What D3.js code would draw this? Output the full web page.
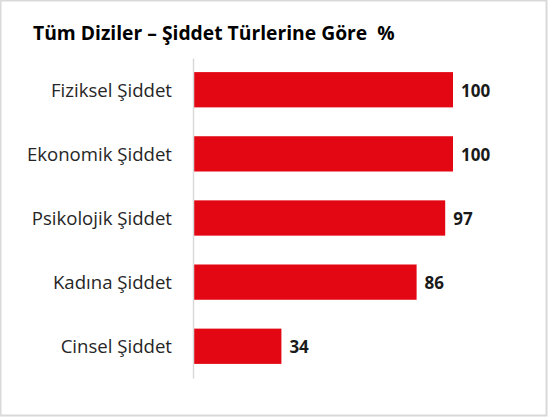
<!DOCTYPE html>
<html>
<head>
<meta charset="utf-8">
<script src="https://cdn.jsdelivr.net/npm/d3@7"></script>
<style>
  body { margin: 0; background: #fff; }
  svg text { font-family: "Open Sans", Lato, sans-serif; }
</style>
</head>
<body>
<div id="chart"></div>
<script>
// data
var categories = ['Fiziksel Şiddet', 'Ekonomik Şiddet', 'Psikolojik Şiddet', 'Kadına Şiddet', 'Cinsel Şiddet']
var values = [100, 100, 97, 86, 34]
var title = 'Tüm Diziler – Şiddet Türlerine Göre  %'

var width = 548, height = 417
var margin = {top: 58, left: 193, right: 95, bottom: 39}

var svg = d3.select('#chart').append('svg')
    .attr('width', width)
    .attr('height', height)

// frame
svg.append('rect')
    .attr('x', 0.5).attr('y', 0.5)
    .attr('width', width - 2).attr('height', height - 2)
    .attr('fill', '#fff')
    .attr('stroke', '#d9d9d9')
    .attr('stroke-width', 2)

svg.append('text')
    .attr('x', 33)
    .attr('y', 40)
    .attr('font-size', 19.3)
    .attr('font-weight', 'bold')
    .attr('fill', '#000')
    .attr('xml:space', 'preserve')
    .text(title)

var x = d3.scaleLinear()
    .domain([0, 100])
    .range([margin.left, margin.left + 260])

var y = d3.scaleBand()
    .domain(categories)
    .range([margin.top, height - margin.bottom])
    .paddingInner(0.45)
    .paddingOuter(0.22)

var g = svg.append('g')

g.selectAll('rect.bar')
    .data(values)
    .enter()
    .append('rect')
    .attr('class', 'bar')
    .attr('x', x(0))
    .attr('y', function(d, i){ return y(categories[i]) })
    .attr('width', function(d){ return x(d) - x(0) })
    .attr('height', y.bandwidth())
    .attr('fill', '#e30613')

// category axis
var yAxis = d3.axisLeft(y).tickSize(0).tickPadding(21)
var ax = svg.append('g')
    .attr('transform', 'translate(' + x(0) + ',0)')
    .call(yAxis)
ax.select('.domain')
    .attr('stroke', '#d9d9d9')
    .attr('stroke-width', 1.5)
ax.selectAll('text')
    .attr('font-size', 18.6)
    .attr('dy', '0.38em')
    .attr('fill', '#262626')
    .style('font-family', '"Open Sans", sans-serif')

// value labels
g.selectAll('text.val')
    .data(values)
    .enter()
    .append('text')
    .attr('class', 'val')
    .attr('x', function(d){ return x(d) + 8 })
    .attr('y', function(d, i){ return y(categories[i]) + y.bandwidth() / 2 })
    .attr('dy', '0.42em')
    .attr('font-size', 17)
    .attr('font-weight', 'bold')
    .attr('fill', '#1a1a1a')
    .text(function(d){ return d })
</script>
</body>
</html>
